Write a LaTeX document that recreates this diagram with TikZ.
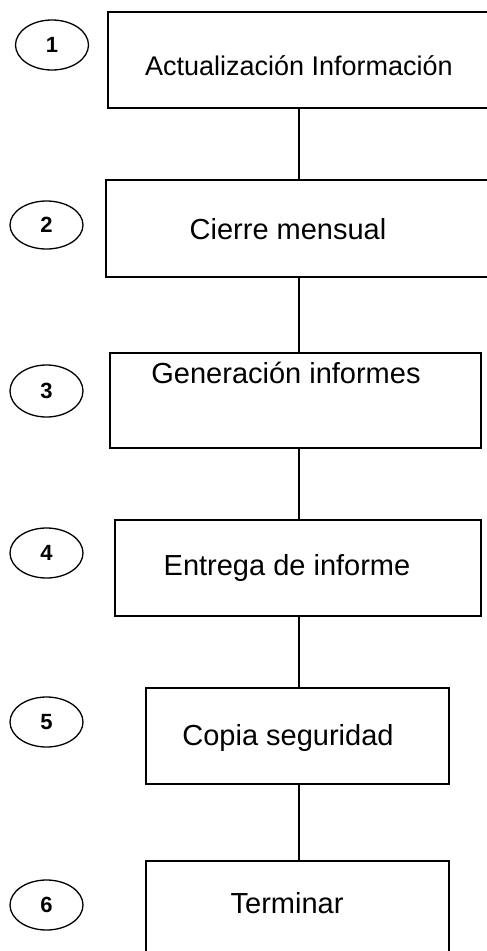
\documentclass[tikz,border=0pt]{standalone}
\usepackage{fontspec}
\setmainfont{Liberation Sans}
\usepackage{tikz}
\usetikzlibrary{shapes.geometric, positioning, calc}

\begin{document}
\begin{tikzpicture}[
    x=1pt, y=-1pt,
    paso/.style={rectangle, draw=black, line width=1.5pt, inner sep=0pt},
    texto/.style={anchor=base, inner sep=0pt, font=\fontsize{29}{34}\selectfont},
    numero/.style={ellipse, draw=black, line width=1.3pt, inner sep=0pt, minimum width=73pt, minimum height=50pt, font=\bfseries\fontsize{22}{24}\selectfont},
    linea/.style={line width=1.5pt}
]
    \useasboundingbox (0,0) rectangle (487,951);
    \clip (0,0) rectangle (487,951);

    % Column of the connectors
    \coordinate (eje) at (299,0);

    % Steps
    \node[paso, minimum width=392pt, minimum height=96pt] (p1) at (304,60) {};
    \node[paso, minimum width=394pt, minimum height=97pt] (p2) at (303,228.5) {};
    \node[paso, minimum width=371pt, minimum height=95pt] (p3) at (295.5,400.5) {};
    \node[paso, minimum width=366pt, minimum height=96pt] (p4) at (298,568) {};
    \node[paso, minimum width=303pt, minimum height=96pt] (p5) at (297.5,736) {};
    \node[paso, minimum width=303pt, minimum height=96pt] (p6) at (297.5,909) {};

    % Texts of the steps
    \node[texto, font=\fontsize{27}{32}\selectfont] (t1) at (299,75) {Actualización Información};
    \node[texto] (t2) at (288,239) {Cierre mensual};
    \node[texto] (t3) at (286,383) {Generación informes};
    \node[texto] (t4) at (287,575) {Entrega de informe};
    \node[texto] (t5) at (288,745) {Copia seguridad};
    \node[texto] (t6) at (287,913) {Terminar};

    % Numbers
    \node[numero] (n1) at (52,45) {1};
    \node[numero, minimum height=48pt] (n2) at (46.5,225) {2};
    \node[numero, minimum height=52pt] (n3) at (46.5,391) {3};
    \node[numero] (n4) at (46.5,553) {4};
    \node[numero] (n5) at (46.5,722) {5};
    \node[numero] (n6) at (46.5,905) {6};

    % Connectors
    \draw[linea] (p1.south -| eje) -- (p2.north -| eje);
    \draw[linea] (p2.south -| eje) -- (p3.north -| eje);
    \draw[linea] (p3.south -| eje) -- (p4.north -| eje);
    \draw[linea] (p4.south -| eje) -- (p5.north -| eje);
    \draw[linea] (p5.south -| eje) -- (p6.north -| eje);

\end{tikzpicture}
\end{document}
